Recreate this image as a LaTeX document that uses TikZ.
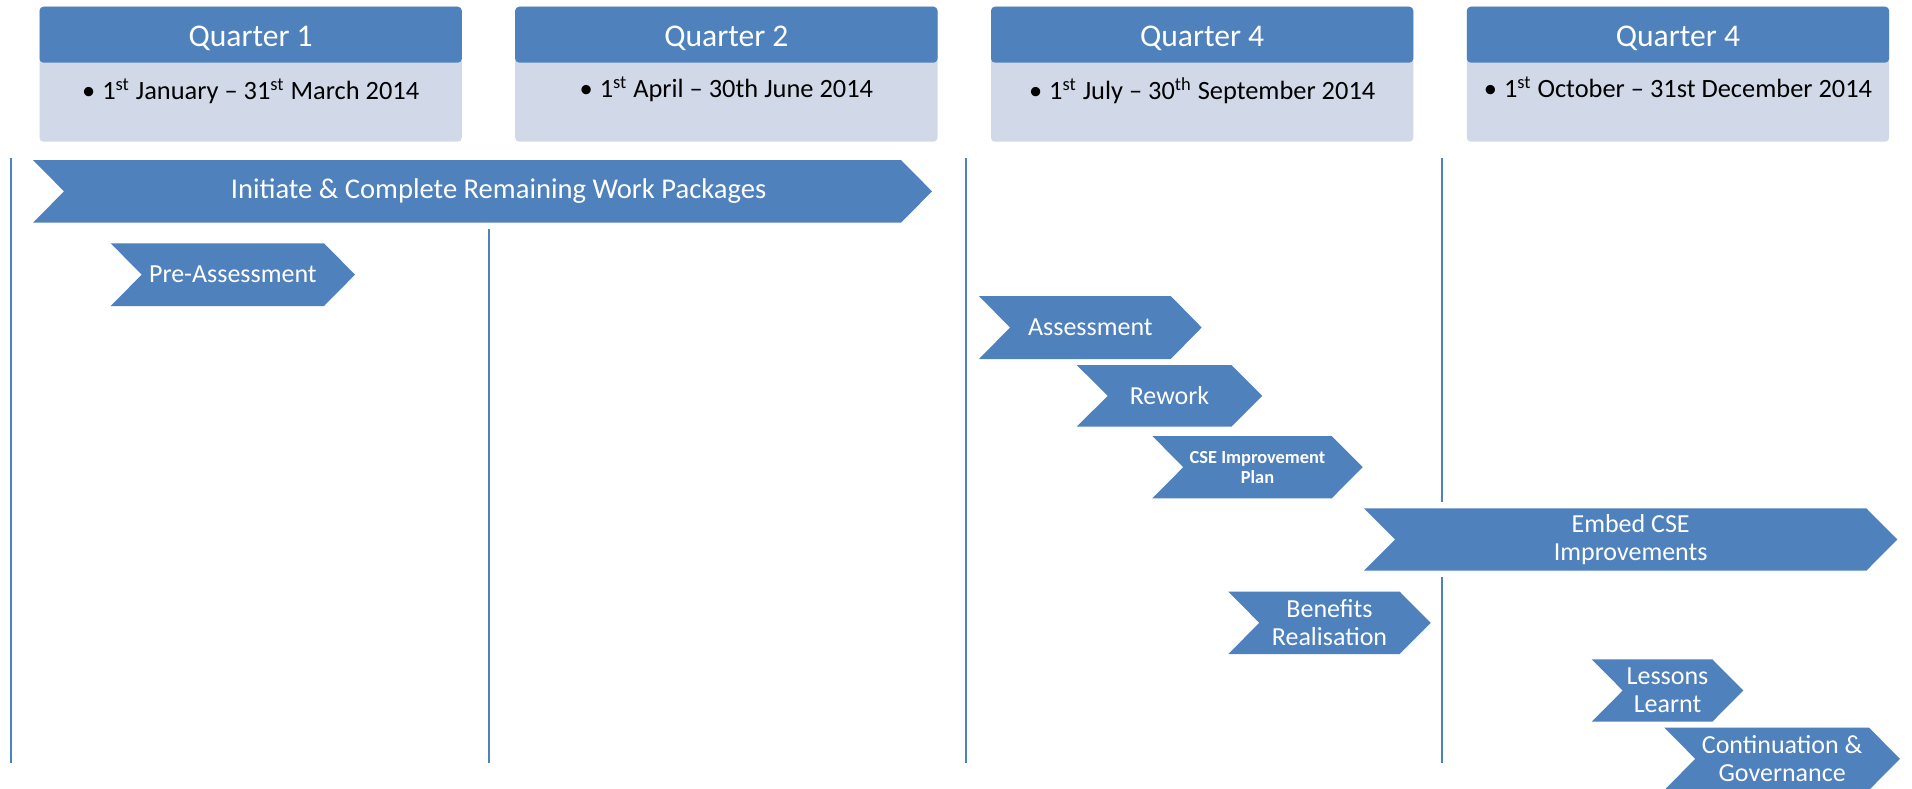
\documentclass[tikz,border=0pt]{standalone}
\usepackage{fontspec}
\setmainfont{Carlito}
\definecolor{qblue}{RGB}{79,129,189}
\definecolor{qlight}{RGB}{209,217,232}
\tikzset{
  vline/.style={draw=qblue, line width=1pt},
  chevfill/.style={fill=qblue},
  chevtext/.style={text=white, font=\fontsize{13}{14}\selectfont, align=center, inner sep=0pt},
  chevwide/.style={chevtext, font=\fontsize{14.3}{15}\selectfont, xshift=8pt},
  chevsmall/.style={text=white, font=\fontsize{9.2}{10}\selectfont\bfseries, align=center, inner sep=0pt},
  qtitle/.style={text=white, font=\fontsize{15.8}{18}\selectfont, anchor=base, inner sep=0pt},
  qdate/.style={text=black, font=\fontsize{13.2}{15}\selectfont, anchor=base, inner sep=0pt},
}
% name, left, right, top, bottom, style, text
\newcommand\mychev[7]{%
  \fill[chevfill] (#2,#4) -- ({#3-31},#4) -- (#3,{(#4+#5)/2}) -- ({#3-31},#5) -- (#2,#5) -- ({#2+31},{(#4+#5)/2}) -- cycle;
  \node[#6] (#1) at ({(#2+#3)/2},{(#4+#5)/2}) {#7};}
% name, left, baseline of date, title, date
\newcommand\myquarter[5]{%
  \fill[qlight, rounded corners=2] (#2,6.7) rectangle ({#2+422.3},141.7);
  \fill[qblue, rounded corners=2] (#2,6.7) rectangle ({#2+422.3},62.7);
  \node[qtitle] (#1t) at ({#2+211.15},46.7) {#4};
  \node[qdate] (#1d) at ({#2+211.15},#3) {#5};}
\newcommand\st{\textsuperscript{st}}
\newcommand\thsup{\textsuperscript{th}}
\newcommand\bul{\textbullet\hspace{3.5pt}}
\begin{document}
\begin{tikzpicture}[x=0.5pt,y=-0.5pt]
\useasboundingbox (0,0) rectangle (1912,788);
\clip (0,0) rectangle (1912,788);
\fill[white] (0,0) rectangle (1912,788);

% quarter headers
\myquarter{q1}{39.5}{99}{Quarter 1}{\bul 1\st{} January – 31\st{} March 2014}
\myquarter{q2}{515.2}{97}{Quarter 2}{\bul 1\st{} April – 30th June 2014}
\myquarter{q3}{991}{99}{Quarter 4}{\bul 1\st{} July – 30\thsup{} September 2014}
\myquarter{q4}{1466.8}{97}{Quarter 4}{\bul 1\st{} October – 31st December 2014}

% vertical quarter separators
\draw[vline] (10.5,158) -- (10.5,763);
\draw[vline] (488.5,229) -- (488.5,763);
\draw[vline] (966,158) -- (966,763);
\draw[vline] (1442,158) -- (1442,502);
\draw[vline] (1442,577) -- (1442,763);

% chevrons
\mychev{init}{33}{932}{160}{222.7}{chevwide}{Initiate \& Complete Remaining Work Packages}
\mychev{pre}{110.7}{355}{243.3}{306}{chevtext}{Pre-Assessment}
\mychev{assess}{979}{1201.7}{296}{359}{chevtext}{Assessment}
\mychev{rework}{1076.7}{1262.3}{365}{426.7}{chevtext}{Rework}
\mychev{cse}{1152.3}{1362.7}{436}{498.3}{chevsmall}{CSE Improvement\\Plan}
\mychev{embed}{1364}{1897.3}{508.3}{570.7}{chevtext}{Embed CSE\\Improvements}
\mychev{benefits}{1228.3}{1430.7}{591.7}{654}{chevtext}{Benefits\\Realisation}
\mychev{lessons}{1591.7}{1743.3}{659.3}{721.7}{chevtext}{Lessons\\Learnt}
\mychev{cont}{1664.3}{1900}{727.7}{790}{chevtext}{Continuation \&\\Governance}
\end{tikzpicture}
\end{document}
